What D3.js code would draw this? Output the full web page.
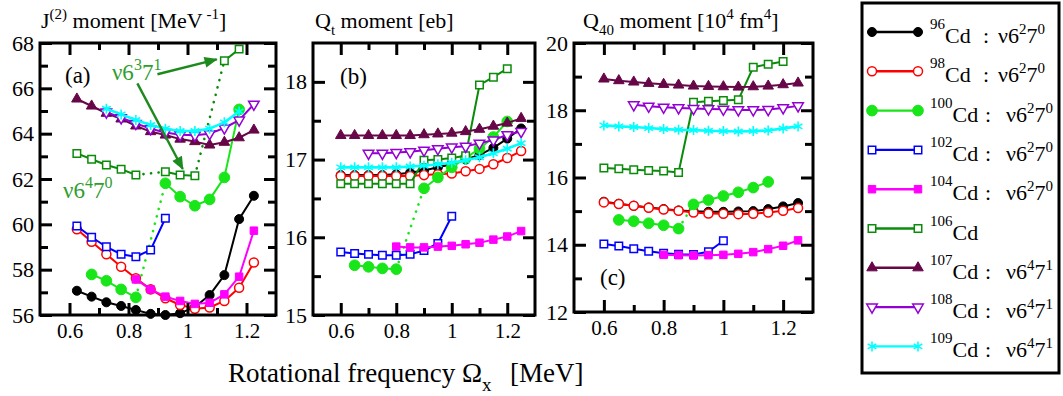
<!DOCTYPE html>
<html><head><meta charset="utf-8">
<script src="https://cdn.jsdelivr.net/npm/d3@7"></script>
<style>
body{margin:0;background:#fff;}
svg{display:block;font-family:"Liberation Serif","Times New Roman",serif;}
</style></head><body>
<svg id="chart" width="1063" height="396"></svg>
<script>
// Rotational frequency grids [MeV]
const omegaJ2 = [0.625,0.675,0.725,0.775,0.825,0.875,0.925,0.975,1.025,1.075,1.125,1.175,1.225];
const omegaQ  = [0.6,0.65,0.7,0.75,0.8,0.85,0.9,0.95,1.0,1.05,1.1,1.15,1.2,1.25];

// J(2) dynamic moment of inertia [MeV^-1]
const j2Cd96  = [57.07,56.81,56.56,56.40,56.22,56.05,56.00,56.08,56.35,56.88,57.76,60.23,61.26];
const j2Cd98  = [59.78,59.23,58.68,58.13,57.62,57.13,56.74,56.44,56.28,56.33,56.62,57.20,58.32];
const j2Cd100 = [null,57.79,57.51,57.13,56.78,null,61.81,61.22,60.82,61.10,62.07,65.07,null];
const j2Cd102 = [59.93,59.43,59.01,58.68,58.57,58.87,60.27,null,null,null,null,null,null];
const j2Cd104 = [null,null,null,null,57.57,57.13,56.81,56.62,56.49,56.54,56.91,57.69,59.72];
const j2Cd106 = [63.13,62.87,62.62,62.43,62.18,null,62.32,62.18,62.14,null,67.22,67.73,null];
const j2Cd107 = [65.53,65.22,64.90,64.65,64.34,64.09,63.94,63.76,63.65,63.50,63.62,63.82,64.16];
const j2Cd108 = [null,null,64.95,64.70,64.45,64.22,64.05,63.95,63.93,64.00,64.25,64.60,65.30];
const j2Cd109 = [null,null,65.10,64.85,64.60,64.38,64.22,64.12,64.12,64.22,64.50,64.98,null];
// points reached through a dotted (band-crossing) connection
const j2Dotted100 = [0.925];
const j2Dotted106 = [0.925,1.125];

// Transition quadrupole moment Qt [eb]
const qtCd96  = [16.80,16.80,16.80,16.80,16.81,16.83,16.86,16.90,16.94,17.00,17.06,17.15,17.27,17.40];
const qtCd98  = [16.79,16.79,16.79,16.79,16.79,16.79,16.80,16.81,16.82,16.85,16.88,16.94,17.02,17.11];
const qtCd100 = [null,15.64,15.62,15.60,15.59,null,16.63,16.77,16.90,17.02,17.14,17.29,17.49,null];
const qtCd102 = [15.81,15.79,15.78,15.77,15.77,15.78,15.83,15.92,16.27,null,null,null,null,null];
const qtCd104 = [null,null,null,null,15.88,15.87,15.87,15.88,15.89,15.91,15.93,15.97,16.01,16.08];
const qtCd106 = [16.69,16.69,16.69,16.69,16.69,16.69,16.99,17.00,17.02,17.05,17.96,18.06,18.17,null];
const qtCd107 = [17.31,17.31,17.31,17.31,17.31,17.31,17.32,17.33,17.34,17.36,17.39,17.43,17.47,17.53];
const qtCd108 = [null,null,17.08,17.08,17.09,17.10,17.12,17.14,17.16,17.17,17.21,17.25,17.32,17.36];
const qtCd109 = [16.90,16.90,16.90,16.90,16.90,16.91,16.92,16.94,16.96,16.99,17.03,17.08,17.14,17.21];
const qtDotted100 = [0.9];

// Hexadecapole moment Q40 [10^4 fm^4]
const q40Cd96  = [15.28,15.22,15.16,15.11,15.06,15.02,15.00,14.98,14.98,14.99,15.00,15.06,15.14,15.24];
const q40Cd98  = [15.26,15.21,15.16,15.10,15.05,15.01,14.96,14.93,14.92,14.91,14.92,14.96,15.01,15.09];
const q40Cd100 = [null,14.74,14.70,14.64,14.58,14.48,15.20,15.33,15.45,15.56,15.70,15.87,null,null];
const q40Cd102 = [14.02,13.96,13.88,13.81,13.75,13.72,13.71,13.79,14.12,null,null,null,null,null];
const q40Cd104 = [null,null,null,null,13.70,13.69,13.68,13.69,13.70,13.73,13.78,13.87,13.97,14.13];
const q40Cd106 = [16.28,16.26,16.23,16.21,16.19,16.15,18.24,18.27,18.29,18.31,19.28,19.37,19.45,null];
const q40Cd107 = [18.93,18.88,18.84,18.80,18.77,18.75,18.72,18.71,18.70,18.69,18.70,18.72,18.76,18.81];
const q40Cd108 = [null,null,18.16,18.12,18.09,18.07,18.05,18.04,18.03,18.01,18.01,18.02,18.07,18.13];
const q40Cd109 = [17.55,17.52,17.50,17.47,17.44,17.42,17.41,17.39,17.38,17.37,17.38,17.40,17.46,17.52];
const q40Dotted100 = [0.9];

// Axis ticks
const omegaTicks = [0.6,0.8,1,1.2];
const omegaMinor = [0.7,0.9,1.1];
const j2Ticks = [56,58,60,62,64,66,68];
const j2Minor = [57,59,61,63,65,67];
const qtTicks = [15,16,17,18];
const qtMinor = [15.5,16.5,17.5];
const q40Ticks = [12,14,16,18,20];
const q40Minor = [13,15,17,19];

// Isotopes: mass number and configuration label
const isotopes = ["96","98","100","102","104","106","107","108","109"];
const configs  = ["2,0","2,0","2,0","2,0","2,0","","4,1","4,1","4,1"];

// Series styles
const styles = {
  "96":  {color:"#000000", shape:"circle",   fill:true,  size:64},
  "98":  {color:"#ff0000", shape:"circle",   fill:false, size:64},
  "100": {color:"#18e618", shape:"circle",   fill:true,  size:90},
  "102": {color:"#0000ff", shape:"square",   fill:false, size:56},
  "104": {color:"#ff00ff", shape:"square",   fill:true,  size:56},
  "106": {color:"#0a8c0a", shape:"square",   fill:false, size:56},
  "107": {color:"#670748", shape:"triUp",    fill:true,  size:48},
  "108": {color:"#9400d3", shape:"triDown",  fill:false, size:48},
  "109": {color:"#00ffff", shape:"asterisk", fill:false, size:70}
};

const svg = d3.select("#chart");

// arrowhead for annotations
svg.append("defs").append("marker")
  .attr("id","arrowHead").attr("viewBox","0 0 12 10").attr("refX",11).attr("refY",5)
  .attr("markerUnits","userSpaceOnUse").attr("markerWidth",14).attr("markerHeight",11)
  .attr("orient","auto")
  .append("path").attr("d","M0,0 L12,5 L0,10 Z").attr("fill","#1d8a1d");

function symbolFor(shape){
  if (shape==="circle") return d3.symbolCircle;
  if (shape==="square") return d3.symbolSquare;
  if (shape==="asterisk") return d3.symbolAsterisk;
  return d3.symbolTriangle;
}

function drawMarker(g, key, cx, cy){
  const st = styles[key];
  const p = g.append("path")
    .attr("d", d3.symbol().type(symbolFor(st.shape)).size(st.size)())
    .attr("transform", `translate(${cx},${cy})` + (st.shape==="triDown" ? " rotate(180)" : ""));
  if (st.shape==="asterisk") {
    p.attr("fill","none").attr("stroke",st.color).attr("stroke-width",1.6);
  } else if (st.fill) {
    p.attr("fill",st.color).attr("stroke",st.color).attr("stroke-width",1);
  } else {
    p.attr("fill","#fff").attr("stroke",st.color).attr("stroke-width",1.5);
  }
}

// rich text with super/subscripts; parts: [text, mode]
function richText(sel, parts, base, supSize){
  let off = 0;
  parts.forEach(([t, mode]) => {
    let target = 0, fs = base;
    if (mode==="sup") { target = -Math.round(base*0.42); fs = supSize; }
    if (mode==="msup") { target = -Math.round(base*0.62); fs = supSize; }
    if (mode==="sub") { target = Math.round(base*0.33); fs = supSize; }
    sel.append("tspan").attr("dy", target - off).attr("font-size", fs).text(t);
    off = target;
  });
}

const panels = [
  {box:{l:40,r:276,t:43,b:315}, w:omegaJ2, yDomain:[56,68], yTicks:j2Ticks, yMinor:j2Minor,
   values:{"96":j2Cd96,"98":j2Cd98,"100":j2Cd100,"102":j2Cd102,"104":j2Cd104,"106":j2Cd106,"107":j2Cd107,"108":j2Cd108,"109":j2Cd109},
   dotted:{"100":j2Dotted100,"106":j2Dotted106}, label:"(a)", labelPos:[25,40],
   title:[["J",""],["(2)","sup"],[" moment [MeV",""],[" -1","sup"],["]",""]], titleX:41},
  {box:{l:313,r:535,t:43,b:315}, w:omegaQ, yDomain:[15,18.5], yTicks:qtTicks, yMinor:qtMinor,
   values:{"96":qtCd96,"98":qtCd98,"100":qtCd100,"102":qtCd102,"104":qtCd104,"106":qtCd106,"107":qtCd107,"108":qtCd108,"109":qtCd109},
   dotted:{"100":qtDotted100}, label:"(b)", labelPos:[27,41],
   title:[["Q",""],["t","sub"],[" moment [eb]",""]], titleX:315},
  {box:{l:574,r:813,t:43,b:312}, w:omegaQ, yDomain:[12,20], yTicks:q40Ticks, yMinor:q40Minor,
   values:{"96":q40Cd96,"98":q40Cd98,"100":q40Cd100,"102":q40Cd102,"104":q40Cd104,"106":q40Cd106,"107":q40Cd107,"108":q40Cd108,"109":q40Cd109},
   dotted:{"100":q40Dotted100}, label:"(c)", labelPos:[26,-27],
   title:[["Q",""],["40","sub"],[" moment [10",""],["4","sup"],[" fm",""],["4","sup"],["]",""]], titleX:583}
];

panels.forEach((P, pi) => {
  const g = svg.append("g");
  const x = d3.scaleLinear().domain([0.5,1.3]).range([P.box.l, P.box.r]);
  const y = d3.scaleLinear().domain(P.yDomain).range([P.box.b, P.box.t]);
  P.x = x; P.y = y;

  // series
  isotopes.forEach(key => {
    const st = styles[key];
    const vals = P.values[key];
    const pts = [];
    vals.forEach((v,i) => { if (v !== null) pts.push({w:P.w[i], v}); });
    const dots = P.dotted[key] || [];
    const line = d3.line().x(d => x(d.w)).y(d => y(d.v));
    let run = [pts[0]];
    const runs = [], dotPairs = [];
    for (let i = 1; i < pts.length; i++) {
      if (dots.some(d => Math.abs(d - pts[i].w) < 1e-6)) {
        runs.push(run); dotPairs.push([pts[i-1], pts[i]]); run = [pts[i]];
      } else run.push(pts[i]);
    }
    runs.push(run);
    dotPairs.forEach(pr => g.append("path").attr("d", line(pr)).attr("fill","none")
      .attr("stroke", st.color).attr("stroke-width",2.6).attr("stroke-linecap","round")
      .attr("stroke-dasharray","0.1 7.5"));
    runs.filter(r => r.length > 1).forEach(r => g.append("path").attr("d", line(r))
      .attr("fill","none").attr("stroke", st.color)
      .attr("stroke-width", key==="109" ? 2.6 : 2).attr("stroke-linejoin","round"));
    pts.forEach(p => drawMarker(g, key, x(p.w), y(p.v)));
  });

  // axes with inward ticks on all four sides
  const ax = svg.append("g");
  const styleAxis = s => {
    s.select(".domain").remove();
    s.selectAll(".tick line").attr("stroke","#000").attr("stroke-width",3);
    s.selectAll("text").attr("font-family","Liberation Serif, Times New Roman, serif")
      .attr("font-size",22).attr("fill","#000");
  };
  ax.append("g").attr("transform",`translate(0,${P.box.b})`)
    .call(d3.axisBottom(x).tickValues(omegaTicks).tickFormat(d => String(d)).tickSize(-12).tickSizeOuter(0).tickPadding(8))
    .call(styleAxis).call(s => s.selectAll("text").attr("font-size",21));
  ax.append("g").attr("transform",`translate(0,${P.box.b})`)
    .call(d3.axisBottom(x).tickValues(omegaMinor).tickFormat("").tickSize(-7).tickSizeOuter(0)).call(styleAxis);
  ax.append("g").attr("transform",`translate(0,${P.box.t})`)
    .call(d3.axisTop(x).tickValues(omegaTicks).tickFormat("").tickSize(-12).tickSizeOuter(0)).call(styleAxis);
  ax.append("g").attr("transform",`translate(0,${P.box.t})`)
    .call(d3.axisTop(x).tickValues(omegaMinor).tickFormat("").tickSize(-7).tickSizeOuter(0)).call(styleAxis);
  ax.append("g").attr("transform",`translate(${P.box.l},0)`)
    .call(d3.axisLeft(y).tickValues(P.yTicks).tickFormat(d => String(d)).tickSize(-12).tickSizeOuter(0).tickPadding(6)).call(styleAxis);
  ax.append("g").attr("transform",`translate(${P.box.l},0)`)
    .call(d3.axisLeft(y).tickValues(P.yMinor).tickFormat("").tickSize(-8).tickSizeOuter(0)).call(styleAxis);
  ax.append("g").attr("transform",`translate(${P.box.r},0)`)
    .call(d3.axisRight(y).tickValues(P.yTicks).tickFormat("").tickSize(-12).tickSizeOuter(0)).call(styleAxis);
  ax.append("g").attr("transform",`translate(${P.box.r},0)`)
    .call(d3.axisRight(y).tickValues(P.yMinor).tickFormat("").tickSize(-8).tickSizeOuter(0)).call(styleAxis);
  ax.append("rect").attr("x",P.box.l).attr("y",P.box.t)
    .attr("width",P.box.r-P.box.l).attr("height",P.box.b-P.box.t)
    .attr("fill","none").attr("stroke","#000").attr("stroke-width",3);

  // panel letter
  const ly = P.labelPos[1] > 0 ? P.box.t + P.labelPos[1] : P.box.b + P.labelPos[1];
  svg.append("text").attr("x",P.box.l+P.labelPos[0]).attr("y",ly)
    .attr("font-size",23).text(P.label);

  // panel title
  const tt = svg.append("text").attr("x",P.titleX).attr("y",28).attr("font-size",22);
  richText(tt, P.title, 22, 15);
});

// configuration annotations in panel (a)
(function(){
  const P = panels[0], x = P.x, y = P.y, green = "#2e9e2e";
  const a1 = svg.append("text").attr("x",x(0.744)).attr("y",y(66.37)).attr("fill",green).attr("font-size",23);
  richText(a1, [["ν6",""],["3","sup"],["7",""],["1","sup"]], 23, 16);
  const a2 = svg.append("text").attr("x",x(0.578)).attr("y",y(61.16)).attr("fill",green).attr("font-size",23);
  richText(a2, [["ν6",""],["4","sup"],["7",""],["0","sup"]], 23, 16);
  [[0.898,66.62,1.099,67.28],[0.830,66.22,0.984,62.44]].forEach(([w0,v0,w1,v1]) =>
    svg.append("line").attr("x1",x(w0)).attr("y1",y(v0)).attr("x2",x(w1)).attr("y2",y(v1))
      .attr("stroke","#1d8a1d").attr("stroke-width",2.4).attr("marker-end","url(#arrowHead)"));
})();

// x-axis title below the three panels
svg.append("text").attr("x",228).attr("y",382).attr("font-size",27).text("Rotational frequency");
const xtB = svg.append("text").attr("x",462).attr("y",382).attr("font-size",27);
richText(xtB, [["Ω",""],["x","sub"]], 27, 19);
svg.append("text").attr("x",510).attr("y",382).attr("font-size",27).text("[MeV]");

// legend
const lg = svg.append("g");
lg.append("rect").attr("x",862).attr("y",3).attr("width",197).attr("height",370)
  .attr("fill","#fff").attr("stroke","#000").attr("stroke-width",3);
isotopes.forEach((key, i) => {
  const ry = 32 + i*39.3;
  const st = styles[key];
  lg.append("line").attr("x1",872).attr("x2",918).attr("y1",ry).attr("y2",ry)
    .attr("stroke",st.color).attr("stroke-width",2.4);
  drawMarker(lg, key, 872, ry);
  drawMarker(lg, key, 918, ry);
  const t = lg.append("text").attr("x",930).attr("y",ry+11).attr("font-size",22);
  richText(t, [[key,"msup"],["Cd",""]], 22, 15);
  if (configs[i]) {
    const [p, q] = configs[i].split(",");
    t.append("tspan").attr("x", i<2 ? 983 : 985).text(":");
    const c = lg.append("text").attr("x", i<2 ? 998 : 1006).attr("y",ry+11).attr("font-size",22);
    richText(c, [["ν6",""],[p,"sup"],["7",""],[q,"sup"]], 22, 15);
  }
});
</script>
</body></html>
